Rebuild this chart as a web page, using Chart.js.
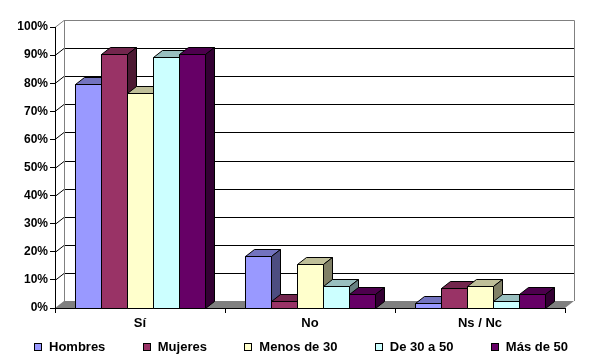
<!DOCTYPE html>
<html>
<head>
<meta charset="utf-8">
<script src="https://cdn.jsdelivr.net/npm/chart.js@4.4.0/dist/chart.umd.min.js"></script>
<style>
  html, body { margin: 0; padding: 0; background: #fff; }
  #wrap { width: 590px; height: 364px; }
</style>
</head>
<body>
<div id="wrap"><canvas id="chart" width="590" height="364"></canvas></div>
<script>
// data (percent)
const categories = ["Sí", "No", "Ns / Nc"];
const seriesNames = ["Hombres", "Mujeres", "Menos de 30", "De 30 a 50", "Más de 50"];
const hombres = [79.7, 18.6, 1.8];
const mujeres = [90.4, 2.5, 7.1];
const menos30 = [76.5, 15.6, 7.9];
const de30a50 = [89.5, 7.9, 2.5];
const mas50 = [90.3, 5.0, 5.0];
const yTickValues = [0, 10, 20, 30, 40, 50, 60, 70, 80, 90, 100];

const series = [hombres, mujeres, menos30, de30a50, mas50];
const frontColors = ["#9999FF", "#993366", "#FFFFCC", "#CCFFFF", "#660066"];

const FONT = "'Liberation Sans', Arial, sans-serif";
const DX = 9, DY = -7;   // depth of the 3d box

function shade(hex, f) {
  const n = parseInt(hex.slice(1), 16);
  const r = Math.round(((n >> 16) & 255) * f);
  const g = Math.round(((n >> 8) & 255) * f);
  const b = Math.round((n & 255) * f);
  return `rgb(${r},${g},${b})`;
}

function poly(ctx, pts, fill, stroke) {
  ctx.beginPath();
  ctx.moveTo(pts[0][0], pts[0][1]);
  for (let i = 1; i < pts.length; i++) ctx.lineTo(pts[i][0], pts[i][1]);
  ctx.closePath();
  if (fill) { ctx.fillStyle = fill; ctx.fill(); }
  if (stroke) { ctx.strokeStyle = stroke; ctx.lineWidth = 1; ctx.stroke(); }
}

const box3d = {
  id: "box3d",
  beforeDraw(chart) {
    const { ctx, chartArea: a, scales: { y } } = chart;
    const L = a.left, R = a.right, T = a.top, B = a.bottom;
    ctx.save();
    // floor
    poly(ctx, [[L, B], [L + DX, B + DY], [R + DX, B + DY], [R, B]], "#808080");
    // grid lines on back and side wall
    ctx.lineWidth = 1;
    yTickValues.forEach(v => {
      if (v === 0) return;
      const py = Math.round(y.getPixelForValue(v)) + 0.5;
      ctx.strokeStyle = v === 100 ? "#808080" : "#000";
      ctx.beginPath();
      ctx.moveTo(L, py);
      ctx.lineTo(L + DX, py + DY);
      ctx.lineTo(R + DX + 0.5, py + DY);
      ctx.stroke();
    });
    // back wall edges
    ctx.strokeStyle = "#808080";
    ctx.beginPath();
    ctx.moveTo(L + DX + 0.5, B + DY);
    ctx.lineTo(L + DX + 0.5, T + DY + 0.5);
    ctx.moveTo(R + DX + 0.5, T + DY + 0.5);
    ctx.lineTo(R + DX + 0.5, B + DY);
    ctx.stroke();
    ctx.restore();
  },
  afterDatasetsDraw(chart) {
    const { ctx } = chart;
    const bars = [];
    chart.data.datasets.forEach((ds, i) => {
      chart.getDatasetMeta(i).data.forEach(el => bars.push({ el, i }));
    });
    bars.sort((p, q) => p.el.x - q.el.x);
    ctx.save();
    bars.forEach(({ el, i }) => {
      const x0 = Math.round(el.x - el.width / 2) + 0.5;
      const x1 = Math.round(el.x + el.width / 2) + 0.5;
      const yt = Math.round(el.y) + 0.5;
      const yb = Math.round(el.base) + 0.5;
      const c = frontColors[i];
      poly(ctx, [[x0, yt], [x1, yt], [x1, yb], [x0, yb]], c, "#000");
      poly(ctx, [[x0, yt], [x0 + DX, yt + DY], [x1 + DX, yt + DY], [x1, yt]], shade(c, 0.75), "#000");
      poly(ctx, [[x1, yt], [x1 + DX, yt + DY], [x1 + DX, yb + DY], [x1, yb]], shade(c, 0.5), "#000");
    });
    ctx.restore();
  },
  afterDraw(chart) {
    // legend row under the axis
    const { ctx } = chart;
    ctx.save();
    ctx.font = `bold 13px ${FONT}`;
    ctx.textBaseline = "middle";
    const widths = seriesNames.map(n => ctx.measureText(n).width);
    const start = 34, end = 568, box = 8, gapText = 7;
    const used = widths.reduce((s, w) => s + box + gapText + w, 0);
    const gap = (end - start - used) / (seriesNames.length - 1);
    let x = start;
    const cy = 347;
    seriesNames.forEach((n, i) => {
      const bx = Math.round(x) + 0.5;
      ctx.fillStyle = frontColors[i];
      ctx.fillRect(bx, cy - 4 + 0.5, box - 1, box - 1);
      ctx.strokeStyle = "#000";
      ctx.lineWidth = 1;
      ctx.strokeRect(bx, cy - 4 + 0.5, box - 1, box - 1);
      ctx.fillStyle = "#000";
      ctx.fillText(n, x + box + gapText, cy);
      x += box + gapText + widths[i] + gap;
    });
    ctx.restore();
  }
};

new Chart(document.getElementById("chart"), {
  type: "bar",
  data: {
    labels: categories,
    datasets: series.map((s, i) => ({
      label: seriesNames[i],
      data: s,
      backgroundColor: frontColors[i],
      borderColor: "#000",
      borderWidth: 0,
      categoryPercentage: 0.765,
      barPercentage: 1
    }))
  },
  options: {
    responsive: false,
    animation: false,
    layout: { padding: { top: 27, right: 25, left: 0, bottom: 0 } },
    plugins: { legend: { display: false }, tooltip: { enabled: false } },
    scales: {
      x: {
        grid: { drawOnChartArea: false, offset: true, tickLength: 5, color: "#000" },
        border: { color: "#000" },
        ticks: { color: "#000", font: { family: FONT, size: 13, weight: "bold" }, padding: 3 },
        afterFit: s => { s.height = 56; }
      },
      y: {
        min: 0,
        max: 100,
        afterBuildTicks: s => { s.ticks = yTickValues.map(v => ({ value: v })); },
        grid: { drawOnChartArea: false, tickLength: 5, color: "#000" },
        border: { color: "#000" },
        ticks: {
          color: "#000",
          font: { family: FONT, size: 12, weight: "bold" },
          padding: 2,
          callback: v => v + "%"
        },
        afterFit: s => { s.width = 55; }
      }
    }
  },
  plugins: [box3d]
});
</script>
</body>
</html>
